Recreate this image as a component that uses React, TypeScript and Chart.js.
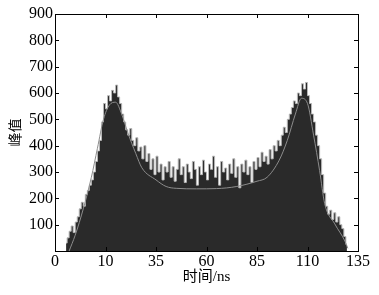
import React, { useEffect, useRef } from 'react';
import { Chart, registerables } from 'chart.js';

Chart.register(...registerables);

// x-axis tick labels (as printed on the original figure), one every 25 bin units
const X_TICK_LABELS = ['0', '10', '35', '60', '85', '110', '135'];
const X_MAX = 150;
const X_STEP = 25;

// histogram: first bin index and bin counts (peak values)
const BIN_START = 5;
const COUNTS = [
  30, 50, 75, 95, 70, 110, 130, 160, 185, 170,
  215, 230, 250, 270, 300, 340, 380, 420, 490, 560,
  540, 590, 570, 610, 600, 630, 585, 560, 520, 490,
  460, 440, 465, 420, 400, 430, 380, 395, 350, 400,
  340, 370, 310, 350, 290, 360, 300, 330, 270, 320,
  300, 340, 280, 320, 265, 310, 350, 290, 320, 260,
  330, 300, 275, 340, 310, 250, 320, 290, 345, 300,
  270, 330, 310, 360, 280, 320, 250, 340, 300, 315,
  270, 330, 295, 350, 280, 320, 240, 330, 300, 345,
  290, 320, 260, 340, 310, 355, 320, 375, 340, 360,
  330, 385, 350, 400, 380, 420, 400, 440, 470, 450,
  500, 520, 545, 570, 560, 600, 590, 635, 615, 640,
  590, 560, 520, 490, 440, 400, 350, 290, 220, 170,
  140, 155, 120, 145, 110, 130, 100, 85, 55, 25,
];

// smooth fitted curve
const FIT_X = [7, 10, 14, 18, 21, 24, 27, 30, 33, 36, 40, 43, 50, 55, 60, 70, 80, 90, 100, 105, 111, 115, 119, 122, 125, 128, 131, 133.5, 138.5, 143.5, 145];
const FIT_Y = [0, 60, 160, 280, 390, 500, 555, 565, 520, 450, 370, 316, 270, 245, 238, 236, 237, 245, 265, 280, 345, 420, 520, 580, 560, 440, 305, 180, 103, 38, 10];

const Y_MAX = 900;
const Y_STEP = 100;

const frameTicks = {
  id: 'frameTicks',
  afterDraw(chart: any) {
    const { ctx, chartArea } = chart;
    const { left, right, top, bottom } = chartArea;
    const xs = chart.scales.x;
    const ys = chart.scales.y;
    const len = 4;
    ctx.save();
    ctx.strokeStyle = '#000';
    ctx.lineWidth = 1;
    ctx.beginPath();
    xs.ticks.forEach((t: any) => {
      if (t.value <= xs.min || t.value >= xs.max) return;
      const px = Math.round(xs.getPixelForValue(t.value)) + 0.5;
      ctx.moveTo(px, top);
      ctx.lineTo(px, top + len);
      ctx.moveTo(px, bottom);
      ctx.lineTo(px, bottom - len);
    });
    ys.ticks.forEach((t: any) => {
      if (t.value <= ys.min || t.value >= ys.max) return;
      const py = Math.round(ys.getPixelForValue(t.value)) + 0.5;
      ctx.moveTo(left, py);
      ctx.lineTo(left + len, py);
      ctx.moveTo(right, py);
      ctx.lineTo(right - len, py);
    });
    ctx.stroke();
    ctx.strokeRect(Math.round(left) + 0.5, Math.round(top) + 0.5, Math.round(right - left), Math.round(bottom - top));
    ctx.restore();
  },
};

export default function App() {
  const ref = useRef<HTMLCanvasElement>(null);

  useEffect(() => {
    if (!ref.current) return;
    const hist = COUNTS.map((v, i) => ({ x: BIN_START + i + 0.5, y: v }));
    const fit = FIT_X.map((x, i) => ({ x, y: FIT_Y[i] }));
    const serif = "'Liberation Serif', 'Noto Sans CJK SC', serif";
    const chart = new Chart(ref.current, {
      type: 'line',
      data: {
        datasets: [
          {
            label: 'fit',
            data: fit,
            borderColor: '#8c8c8c',
            borderWidth: 1,
            pointRadius: 0,
            fill: false,
            cubicInterpolationMode: 'monotone',
            order: 0,
          },
          {
            label: 'hist',
            data: hist,
            stepped: 'middle',
            borderColor: '#b8b8b8',
            borderWidth: 1,
            backgroundColor: '#2a2a2a',
            fill: 'origin',
            pointRadius: 0,
            order: 1,
          },
        ],
      },
      options: {
        animation: false,
        responsive: false,
        maintainAspectRatio: false,
        layout: { padding: { top: 14, right: 21, left: 0, bottom: 0 } },
        plugins: { legend: { display: false }, tooltip: { enabled: false } },
        scales: {
          x: {
            type: 'linear',
            min: 0,
            max: X_MAX,
            grid: { display: false, drawTicks: false },
            border: { display: false },
            afterFit: (s: any) => { s.height = 44; },
            ticks: {
              stepSize: X_STEP,
              autoSkip: false,
              maxRotation: 0,
              padding: 1,
              color: '#000',
              font: { family: serif, size: 16 },
              callback: (v: any) => X_TICK_LABELS[Math.round(Number(v) / X_STEP)] ?? '',
            },
            title: {
              display: true,
              text: '时间/ns',
              color: '#000',
              font: { family: serif, size: 15 },
              padding: { top: 0, bottom: 9 },
            },
          },
          y: {
            min: 0,
            max: Y_MAX,
            grid: { display: false, drawTicks: false },
            border: { display: false },
            afterFit: (s: any) => { s.width = 55; },
            ticks: {
              stepSize: Y_STEP,
              padding: 2,
              color: '#000',
              font: { family: serif, size: 16 },
              callback: (v: any) => (Number(v) === 0 ? '' : String(v)),
            },
            title: {
              display: true,
              text: '峰值',
              color: '#000',
              font: { family: serif, size: 14 },
              padding: { top: 8, bottom: 0 },
            },
          },
        },
      },
      plugins: [frameTicks],
    });
    return () => chart.destroy();
  }, []);

  return (
    <div style={{ position: 'fixed', left: 0, top: 0, width: 379, height: 295, background: '#fff' }}>
      <canvas ref={ref} width={379} height={295} style={{ width: 379, height: 295, display: 'block' }} />
    </div>
  );
}
